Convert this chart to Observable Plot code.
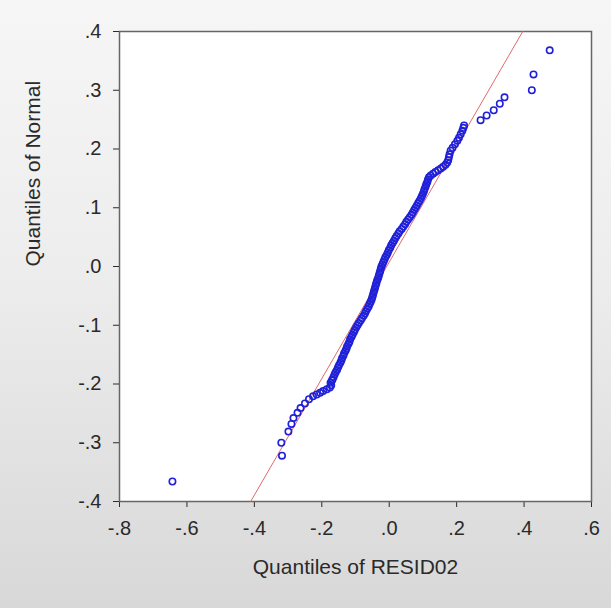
<!DOCTYPE html>
<html>
<head>
<meta charset="utf-8">
<script src="https://cdn.jsdelivr.net/npm/d3@7"></script>
<script src="https://cdn.jsdelivr.net/npm/@observablehq/plot@0.6"></script>
<style>
  html, body { margin: 0; padding: 0; width: 611px; height: 608px; overflow: hidden; }
  body { background: linear-gradient(to bottom, #f6f6f6 0%, #ededed 45%, #d8d8d8 100%); }
  #chart svg { display: block; }
  #chart svg g[aria-label="dot"] { filter: blur(0.35px); }
</style>
</head>
<body>
<div id="chart"></div>
<script>
// Sample quantiles (RESID02) on x, theoretical normal quantiles on y
const qqX = [
  -0.643, -0.318, -0.320, -0.299, -0.290, -0.284, -0.272, -0.263, -0.250, -0.238,
  -0.226, -0.215, -0.205, -0.196, -0.185, -0.176, -0.172, -0.174, -0.170,
  -0.168, -0.165, -0.162, -0.159, -0.155, -0.152, -0.149, -0.145, -0.142, -0.140,
  -0.136, -0.134, -0.130, -0.127, -0.125, -0.121, -0.118, -0.116, -0.112, -0.109,
  -0.105, -0.102, -0.098, -0.094, -0.090, -0.085, -0.081, -0.076, -0.072, -0.069,
  -0.065, -0.061, -0.058, -0.055, -0.052, -0.050, -0.048, -0.046, -0.044, -0.042,
  -0.040, -0.038, -0.036, -0.033, -0.031, -0.029, -0.027, -0.025, -0.023, -0.020,
  -0.017, -0.014, -0.011, -0.007, -0.004, -0.001, 0.003, 0.006, 0.010, 0.014,
  0.018, 0.022, 0.027, 0.031, 0.037, 0.042, 0.047, 0.051, 0.056, 0.061,
  0.066, 0.070, 0.074, 0.078, 0.082, 0.086, 0.090, 0.094, 0.097, 0.100,
  0.103, 0.105, 0.108, 0.110, 0.113, 0.115, 0.118, 0.123, 0.130, 0.137,
  0.145, 0.153, 0.160, 0.167, 0.172, 0.175, 0.177, 0.179, 0.182, 0.188,
  0.195, 0.202, 0.207, 0.212, 0.217, 0.220, 0.222,
  0.271, 0.289, 0.310, 0.328, 0.342, 0.423, 0.428, 0.476
];
const qqY = [
  -0.366, -0.322, -0.300, -0.281, -0.268, -0.258, -0.249, -0.241, -0.233, -0.226,
  -0.221, -0.218, -0.215, -0.212, -0.209, -0.206, -0.202, -0.198, -0.194,
  -0.192, -0.188, -0.184, -0.180, -0.176, -0.172, -0.168, -0.164, -0.160, -0.156,
  -0.152, -0.148, -0.144, -0.140, -0.136, -0.132, -0.128, -0.124, -0.120, -0.116,
  -0.112, -0.108, -0.104, -0.100, -0.096, -0.092, -0.088, -0.084, -0.080, -0.076,
  -0.072, -0.068, -0.064, -0.060, -0.056, -0.052, -0.048, -0.044, -0.040, -0.036,
  -0.032, -0.028, -0.024, -0.020, -0.016, -0.012, -0.008, -0.004, 0.000, 0.004,
  0.008, 0.012, 0.016, 0.020, 0.024, 0.028, 0.032, 0.036, 0.040, 0.044,
  0.048, 0.052, 0.056, 0.060, 0.064, 0.068, 0.072, 0.076, 0.080, 0.084,
  0.088, 0.092, 0.096, 0.100, 0.104, 0.108, 0.112, 0.116, 0.120, 0.124,
  0.128, 0.132, 0.136, 0.140, 0.144, 0.148, 0.152, 0.155, 0.158, 0.161,
  0.164, 0.167, 0.170, 0.173, 0.177, 0.181, 0.186, 0.191, 0.197, 0.202,
  0.208, 0.214, 0.219, 0.225, 0.231, 0.236, 0.240,
  0.249, 0.257, 0.266, 0.277, 0.288, 0.300, 0.327, 0.368
];
// Reference line endpoints
const refX = [-0.411, 0.396];
const refY = [-0.4, 0.4];
// Axis ticks
const xTicks = [-0.8, -0.6, -0.4, -0.2, 0, 0.2, 0.4, 0.6];
const yTicks = [-0.4, -0.3, -0.2, -0.1, 0, 0.1, 0.2, 0.3, 0.4];
const xTitle = "Quantiles of RESID02";
const yTitle = "Quantiles of Normal";

const fmt = d => d3.format(".1f")(d).replace("\u2212", "-").replace("0.", ".");
const points = qqX.map((x, i) => ({x, y: qqY[i]}));
const ref = refX.map((x, i) => ({x, y: refY[i]}));

const chart = Plot.plot({
  width: 611,
  height: 608,
  marginLeft: 119,
  marginRight: 20,
  marginTop: 31,
  marginBottom: 107,
  style: {background: "transparent", fontFamily: "'Liberation Sans', Arial, sans-serif", fontSize: "20px", color: "#2a2a2a"},
  x: {domain: [-0.8, 0.6], ticks: xTicks, tickFormat: fmt, tickSize: 6, tickPadding: 13, label: null},
  y: {domain: [-0.4, 0.4], ticks: yTicks, tickFormat: fmt, tickSize: 6, tickPadding: 12, label: null},
  marks: [
    Plot.frame({fill: "white", stroke: "#666", strokeWidth: 1.5}),
    Plot.line(ref, {x: "x", y: "y", stroke: "#e06a6a", strokeWidth: 1}),
    Plot.dot(points, {x: "x", y: "y", r: 3.2, stroke: "#2020d8", strokeWidth: 1.6, fill: "none"}),
    Plot.text([xTitle], {frameAnchor: "bottom", dy: 72, fontSize: 21, fill: "#2a2a2a"}),
    Plot.text([yTitle], {frameAnchor: "left", dx: -86, rotate: -90, fontSize: 21, fill: "#2a2a2a"})
  ]
});
document.getElementById("chart").appendChild(chart);
</script>
</body>
</html>
